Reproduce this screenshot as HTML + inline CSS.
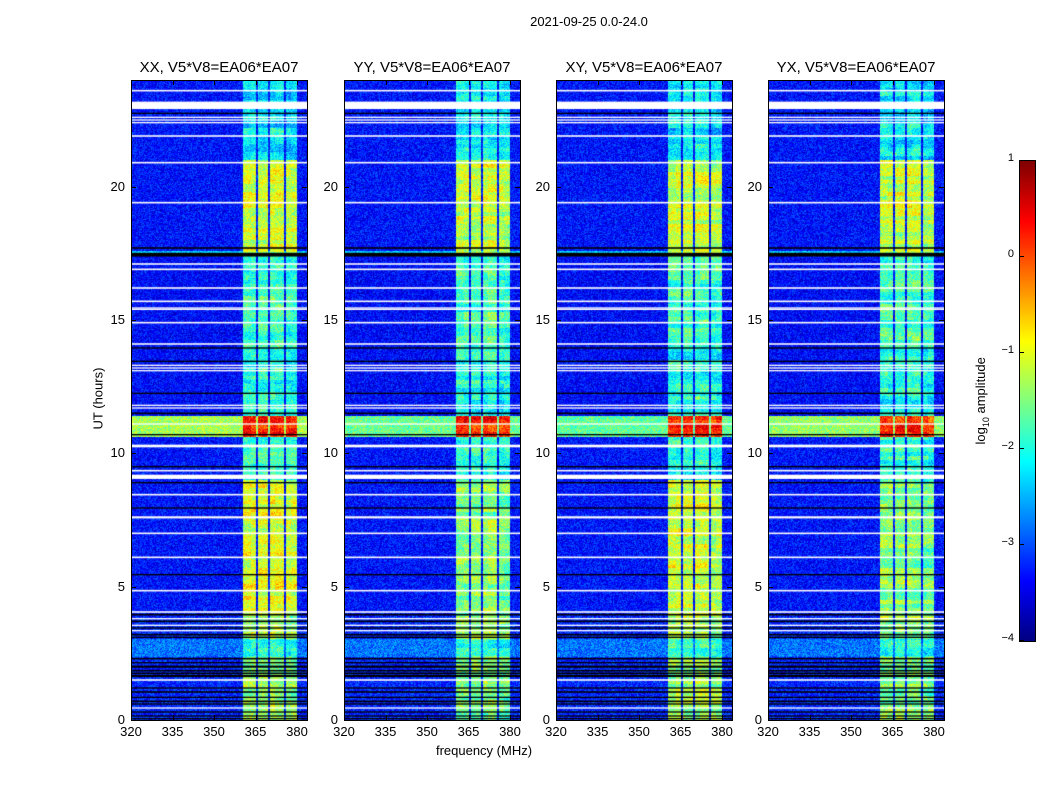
<!DOCTYPE html>
<html><head><meta charset="utf-8">
<style>
body{margin:0;background:#fff;font-family:"Liberation Sans",sans-serif;}
#root{position:relative;width:1050px;height:800px;overflow:hidden;background:#fff;}
.t{position:absolute;color:#000;white-space:nowrap;}
canvas{position:absolute;}
.ax{position:absolute;border:1px solid #000;box-sizing:border-box;}
</style></head>
<body>
<div id="root">
<div class="t" style="left:489px;top:14px;width:200px;text-align:center;font-size:13px;">2021-09-25 0.0-24.0</div>
<div class="t" style="left:384px;top:743px;width:200px;text-align:center;font-size:13px;">frequency (MHz)</div>
<div class="t" style="left:48px;top:391px;width:100px;text-align:center;font-size:13px;transform:rotate(-90deg);">UT (hours)</div>
<div class="t" style="left:922px;top:392px;width:120px;text-align:center;font-size:13px;transform:rotate(-90deg);">log<sub style="font-size:9px">10</sub> amplitude</div>
<canvas id="cb" width="15" height="480" style="left:1019px;top:160px;border:1px solid #000;"></canvas>
</div>
<script>
// ---- data ----
const panelTitles = ["XX, V5*V8=EA06*EA07","YY, V5*V8=EA06*EA07","XY, V5*V8=EA06*EA07","YX, V5*V8=EA06*EA07"];
const panelLeft = [131,344,556,768];
const xTicks = [320,335,350,365,380];
const yTicks = [0,5,10,15,20];
const cbTicks = [1,0,-1,-2,-3,-4];
// time segments (hours start) with background level and band level per panel
const segStart = [0,2.35,3.05,3.9,9.0,10.6,11.4,14.0,17.4,17.6,21.0];
const segEnd   = [2.35,3.05,3.9,9.0,10.6,11.4,14.0,17.4,17.6,21.0,24.0];
const segBg    = [-3.2,-2.8,-3.2,-3.3,-3.3,-1.3,-3.35,-3.35,-2.4,-3.3,-3.3];
const bandXX   = [-1.4,-1.8,-1.3,-1.05,-1.9,0.2,-2.0,-1.8,-1.2,-1.1,-2.2];
const bandYY   = [-1.5,-1.9,-1.4,-1.5,-1.9,0.2,-2.0,-1.8,-1.3,-1.1,-2.2];
const bandXY   = [-1.4,-1.8,-1.3,-1.1,-1.9,0.2,-2.0,-1.8,-1.2,-1.15,-2.2];
const bandYX   = [-1.5,-1.9,-1.4,-1.5,-1.9,0.2,-2.0,-1.8,-1.3,-1.15,-2.2];
const bandLevels = [bandXX,bandYY,bandXY,bandYX];
const bgOffset = [0,-0.3,-0.35,-0.1];
// RFI channel bands (MHz)
const bandLo = [360.5,366.0,370.3,376.0];
const bandHi = [365.2,369.5,375.3,380.0];
const bandAdj = [0.0,0.0,0.05,-0.1];
// flagged rows (hours, thickness in hours)
const whiteT = [23.6,23.05,22.6,22.5,22.4,21.9,20.9,19.4,17.1,16.9,16.2,15.7,15.45,15.4,14.9,14.1,13.3,13.2,13.1,11.8,11.7,11.1,10.3,10.25,9.35,9.12,8.45,7.6,7.0,6.1,4.85,4.05,3.8,3.55,3.35,1.5,0.45];
const whiteW = [0.06,0.28,0.05,0.05,0.05,0.06,0.06,0.06,0.06,0.06,0.06,0.06,0.05,0.05,0.06,0.06,0.05,0.05,0.05,0.05,0.05,0.05,0.05,0.05,0.06,0.16,0.06,0.08,0.06,0.06,0.06,0.06,0.05,0.05,0.05,0.06,0.05];
const blackT = [22.75,17.7,17.45,13.95,13.45,12.25,11.5,10.7,9.5,8.9,7.95,5.45,3.95,3.7,3.45,3.2,3.1,2.3,2.15,2.0,1.85,1.75,1.65,1.2,1.05,0.85,0.7,0.6,0.3,0.15,0.05];
const blackW = [0.05,0.06,0.14,0.05,0.05,0.05,0.06,0.05,0.05,0.05,0.05,0.05,0.06,0.06,0.05,0.06,0.05,0.06,0.05,0.08,0.06,0.06,0.08,0.05,0.06,0.05,0.06,0.05,0.05,0.05,0.05];
// ---- scales ----
const top0=80, plotH=640, plotW=176, fMin=320, fMax=383.6, hMax=24;
function yOf(h){return top0+plotH*(1-h/hMax);}
function xOf(f,left){return left+(f-fMin)/(fMax-fMin)*plotW;}
function jet(v){const t=Math.max(0,Math.min(1,(v+4)/5));
 const c=x=>Math.round(255*Math.max(0,Math.min(1,x)));
 return [c(1.5-Math.abs(4*t-3)),c(1.5-Math.abs(4*t-2)),c(1.5-Math.abs(4*t-1))];}
function hash(a,b,c){let h=(a*374761393+b*668265263+c*2147483647)|0;h=(h^(h>>>13))*1274126177|0;return ((h^(h>>>16))>>>0)/4294967296;}
const root=document.getElementById('root');
function mk(tag,cls,name,inter,style,txt){const e=document.createElement(tag);if(cls)e.className=cls;
 
 
 e.style.cssText=style;if(txt!==undefined)e.textContent=txt;root.appendChild(e);return e;}
panelLeft.forEach((L,p)=>{
 const cv=document.createElement('canvas');cv.width=plotW;cv.height=plotH;
 cv.style.left=L+'px';cv.style.top=top0+'px';
 
 
 root.appendChild(cv);
 const ctx=cv.getContext('2d');const img=ctx.createImageData(plotW,plotH);
 for(let y=0;y<plotH;y++){
  const h=hMax*(1-(y+0.5)/plotH);
  let s=0;for(let i=0;i<segStart.length;i++){if(h>=segStart[i]&&h<segEnd[i])s=i;}
  const bg=segBg[s]+(segBg[s]>-2?bgOffset[p]:0);
  const rowVar=(hash(y>>2,7,p)-0.5)*0.5;
  for(let x=0;x<plotW;x++){
   const f=fMin+(x+0.5)/plotW*(fMax-fMin);
   let v=bg;let inBand=false;
   for(let b=0;b<bandLo.length;b++){if(f>=bandLo[b]&&f<=bandHi[b]){v=Math.max(v,bandLevels[p][s]+bandAdj[b]);inBand=true;}}
   v+= (hash(x,y,p)-0.5)*0.8 + (inBand?rowVar+(hash(x>>3,y>>3,p+9)-0.5)*0.4:0);
   const c=jet(v);const k=(y*plotW+x)*4;img.data[k]=c[0];img.data[k+1]=c[1];img.data[k+2]=c[2];img.data[k+3]=255;
  }}
 ctx.putImageData(img,0,0);
 ctx.fillStyle='#000';
 blackT.forEach((t,i)=>{const y=yOf(t)-top0;ctx.fillRect(0,y-Math.max(1,blackW[i]*plotH/hMax)/2,plotW,Math.max(1,blackW[i]*plotH/hMax));});
 ctx.fillStyle='#fff';
 whiteT.forEach((t,i)=>{const y=yOf(t)-top0;ctx.fillRect(0,y-Math.max(1,whiteW[i]*plotH/hMax)/2,plotW,Math.max(1.2,whiteW[i]*plotH/hMax));});
 mk('div','ax','panel-frame-'+p,'false',`left:${L}px;top:${top0}px;width:${plotW+1}px;height:${plotH+1}px;`);
 mk('div','t','panel-title-'+p,'false',`left:${L-30}px;top:59px;width:${plotW+60}px;text-align:center;font-size:15px;`,panelTitles[p]);
 xTicks.forEach(f=>{const x=xOf(f,L);
  mk('div','t','x-tick-label','false',`left:${x-20}px;top:724px;width:40px;text-align:center;font-size:13px;`,String(f));
  mk('div','','x-tick','false',`position:absolute;left:${x}px;top:${top0+plotH-5}px;width:1px;height:5px;background:#000;`);
  mk('div','','x-tick','false',`position:absolute;left:${x}px;top:${top0}px;width:1px;height:5px;background:#000;`);});
 yTicks.forEach(h=>{const y=yOf(h);
  mk('div','t','y-tick-label','false',`left:${L-40}px;top:${y-8}px;width:34px;text-align:right;font-size:13px;`,String(h));
  mk('div','','y-tick','false',`position:absolute;left:${L}px;top:${y}px;width:5px;height:1px;background:#000;`);
  mk('div','','y-tick','false',`position:absolute;left:${L+plotW-5}px;top:${y}px;width:5px;height:1px;background:#000;`);});
});
// colorbar
const cb=document.getElementById('cb').getContext('2d');
for(let y=0;y<480;y++){const v=1-5*y/480;const c=jet(v);cb.fillStyle=`rgb(${c[0]},${c[1]},${c[2]})`;cb.fillRect(0,y,15,1);}
cbTicks.forEach(v=>{const y=160+480*(1-v)/5;
 mk('div','t','colorbar-tick-label','false',`left:990px;top:${y-8}px;width:24px;text-align:right;font-size:11px;`,v<0?'\u2212'+(-v):String(v));
 mk('div','','colorbar-tick','false',`position:absolute;left:1020px;top:${y}px;width:4px;height:1px;background:#000;`);});
</script>
</body></html>
